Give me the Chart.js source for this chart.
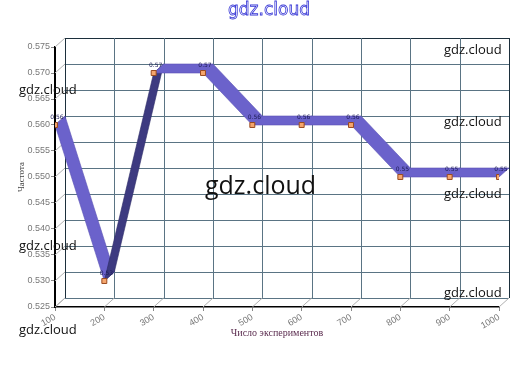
<!DOCTYPE html>
<html>
<head>
<meta charset="utf-8">
<script src="https://cdn.jsdelivr.net/npm/chart.js@4"></script>
<style>
  body { margin: 0; background: #fff; }
</style>
</head>
<body>
<canvas id="grafico" width="531" height="367"></canvas>
<script>
// Valores
const experimentos = [100, 200, 300, 400, 500, 600, 700, 800, 900, 1000];
const frecuencia = [0.56, 0.53, 0.57, 0.57, 0.56, 0.56, 0.56, 0.55, 0.55, 0.55];
const ticksX = [100, 200, 300, 400, 500, 600, 700, 800, 900, 1000];
const ticksY = [0.525, 0.53, 0.535, 0.54, 0.545, 0.55, 0.555, 0.56, 0.565, 0.57, 0.575];

// Desplazamiento de la pared trasera (efecto 3D)
const DX = 10, DY = -9;

// Pared trasera, diagonales y cinta 3D
const pared3d = {
  id: 'pared3d',
  beforeDatasetsDraw(chart) {
    const { ctx, scales: { x, y } } = chart;
    const izq = x.getPixelForValue(ticksX[0]) + DX;
    const der = x.getPixelForValue(ticksX[ticksX.length - 1]) + DX;
    const arriba = y.getPixelForValue(ticksY[ticksY.length - 1]) + DY;
    const abajo = y.getPixelForValue(ticksY[0]) + DY;
    ctx.save();
    ctx.lineWidth = 1;

    // rejilla de la pared
    ticksY.forEach((v, i) => {
      const py = Math.round(y.getPixelForValue(v) + DY) + 0.5;
      ctx.strokeStyle = i === ticksY.length - 1 ? '#1c2f3c' : '#5a7484';
      ctx.beginPath(); ctx.moveTo(izq, py); ctx.lineTo(der, py); ctx.stroke();
    });
    ticksX.forEach((v, i) => {
      const px = Math.round(x.getPixelForValue(v) + DX) + 0.5;
      ctx.strokeStyle = (i === 0 || i === ticksX.length - 1) ? '#1c2f3c' : '#5a7484';
      ctx.beginPath(); ctx.moveTo(px, arriba); ctx.lineTo(px, abajo); ctx.stroke();
    });

    // diagonales hacia la pared
    ctx.strokeStyle = '#b0b0b0';
    ticksY.forEach(v => {
      const py = y.getPixelForValue(v);
      ctx.beginPath(); ctx.moveTo(x.left, py); ctx.lineTo(x.left + DX, py + DY); ctx.stroke();
    });
    ticksX.forEach(v => {
      const px = x.getPixelForValue(v);
      ctx.beginPath(); ctx.moveTo(px, y.bottom); ctx.lineTo(px + DX, y.bottom + DY); ctx.stroke();
    });

    // cinta
    const pts = chart.getDatasetMeta(0).data;
    for (let i = 0; i < pts.length - 1; i++) {
      const a = pts[i], b = pts[i + 1];
      const sube = b.y < a.y - 0.5;
      ctx.fillStyle = sube ? '#3d3a80' : '#6b62cb';
      ctx.strokeStyle = sube ? '#2e2c66' : '#5a52b5';
      ctx.lineWidth = 0.6;
      ctx.beginPath();
      ctx.moveTo(a.x, a.y);
      ctx.lineTo(b.x, b.y);
      ctx.lineTo(b.x + DX, b.y + DY);
      ctx.lineTo(a.x + DX, a.y + DY);
      ctx.closePath();
      ctx.fill();
      ctx.stroke();
    }
    ctx.restore();
  },
  afterDatasetsDraw(chart) {
    // etiquetas de valores
    const { ctx } = chart;
    const pts = chart.getDatasetMeta(0).data;
    ctx.save();
    ctx.font = '6px "DejaVu Sans"';
    ctx.fillStyle = '#1b1b55';
    ctx.textAlign = 'center';
    ctx.textBaseline = 'middle';
    pts.forEach((p, i) => {
      ctx.fillText(frecuencia[i].toFixed(2), p.x + 2, p.y - 8);
    });
    ctx.restore();
  },
  afterDraw(chart) {
    // marcas de agua
    const { ctx } = chart;
    ctx.save();
    ctx.textBaseline = 'middle';
    ctx.fillStyle = '#111';
    ctx.font = '13px "Open Sans"';
    [[444, 50], [19, 90], [444, 122], [444, 194], [19, 246], [444, 293], [19, 330]].forEach(([px, py]) => {
      ctx.fillText('gdz.cloud', px, py);
    });
    ctx.font = '25px "Open Sans"';
    ctx.fillText('gdz.cloud', 205, 187);
    ctx.font = '17px "DejaVu Sans"';
    ctx.strokeStyle = '#3535d5';
    ctx.lineWidth = 0.8;
    ctx.strokeText('gdz.cloud', 228, 11);
    ctx.restore();
  }
};

new Chart(document.getElementById('grafico'), {
  type: 'line',
  data: {
    datasets: [{
      label: 'Частота',
      data: experimentos.map((v, i) => ({ x: v, y: frecuencia[i] })),
      showLine: false,
      pointStyle: 'rect',
      pointRadius: 3.5,
      pointBackgroundColor: '#f5a66e',
      pointBorderColor: '#9a4b20',
      pointBorderWidth: 1
    }]
  },
  options: {
    responsive: false,
    animation: false,
    layout: { padding: { left: 16, top: 47, right: 32, bottom: 28 } },
    plugins: {
      legend: { display: false },
      tooltip: { enabled: false }
    },
    scales: {
      x: {
        type: 'linear',
        min: 100,
        max: 1000,
        afterBuildTicks: axis => { axis.ticks = ticksX.map(v => ({ value: v })); },
        afterFit: s => { s.height = 32; },
        ticks: {
          autoSkip: false,
          minRotation: 30,
          maxRotation: 30,
          padding: 1,
          color: '#777',
          font: { family: 'Liberation Sans', size: 9 },
          callback: v => String(v)
        },
        grid: { drawOnChartArea: false, tickLength: 4, color: '#888' },
        border: { color: '#000', width: 1.5 },
        title: {
          display: true,
          text: 'Число экспериментов',
          color: '#5b2c4f',
          padding: 0,
          font: { family: 'Liberation Serif', size: 10 }
        }
      },
      y: {
        min: 0.525,
        max: 0.575,
        afterBuildTicks: axis => { axis.ticks = ticksY.map(v => ({ value: v })); },
        afterFit: s => { s.width = 39; },
        ticks: {
          padding: 1,
          color: '#777',
          font: { family: 'Liberation Sans', size: 9 },
          callback: v => v.toFixed(3)
        },
        grid: { drawOnChartArea: false, tickLength: 4, color: '#888' },
        border: { color: '#000', width: 2 },
        title: {
          display: true,
          text: 'Частота',
          color: '#444',
          padding: 0,
          font: { family: 'Liberation Serif', size: 9 }
        }
      }
    }
  },
  plugins: [pared3d]
});
</script>
</body>
</html>
